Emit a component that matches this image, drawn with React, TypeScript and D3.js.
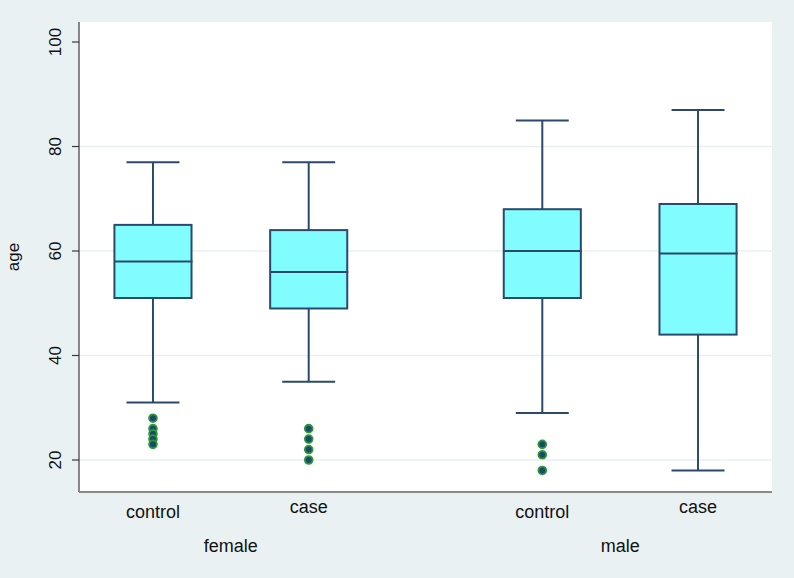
import React from "react";
import * as d3 from "d3";

const width = 794;
const height = 578;
const plot = { left: 79, right: 772, top: 22, bottom: 492 };

// over(sex) then over(group)
const sexes = ["female", "male"];
const groups = ["control", "case"];

// box statistics per sex x group, order: female control, female case, male control, male case
const whiskerLow = [31, 35, 29, 18];
const q1 = [51, 49, 51, 44];
const median = [58, 56, 60, 59.5];
const q3 = [65, 64, 68, 69];
const whiskerHigh = [77, 77, 85, 87];
const outliers = [
  [28, 26, 25, 24, 23],
  [26, 24, 22, 20],
  [23, 21, 18],
  [],
];

const yTicks = [20, 40, 60, 80, 100];
const gridTicks = [20, 40, 60, 80];

// slot positions along x (gap between sex groups)
const slots = [0, 1, 2.5, 3.5];

const lineColor = "#2b4a6b";
const font = "'Liberation Sans', Arial, Helvetica, sans-serif";

export default function App() {
  const x = d3.scaleLinear().domain([-0.475, 3.975]).range([plot.left, plot.right]);
  const y = d3.scaleLinear().domain([13.876, 103.83]).range([plot.bottom, plot.top]);
  const unit = x(1) - x(0);
  const boxW = unit * 0.495;
  const capW = unit * 0.34;

  const boxes = slots.map((s, i) => ({
    cx: x(s),
    sex: sexes[Math.floor(i / 2)],
    group: groups[i % 2],
    lo: whiskerLow[i],
    q1: q1[i],
    med: median[i],
    q3: q3[i],
    hi: whiskerHigh[i],
    out: outliers[i],
  }));

  return (
    <svg width={width} height={height} style={{ display: "block", position: "absolute", left: 0, top: 0 }}>
      <rect x={0} y={0} width={width} height={height} fill="#eaf1f3" />
      <rect x={plot.left} y={plot.top} width={plot.right - plot.left} height={plot.bottom - plot.top} fill="#ffffff" />

      {gridTicks.map(t => (
        <line key={t} x1={plot.left} x2={plot.right} y1={y(t)} y2={y(t)} stroke="#e8eff1" strokeWidth={1.5} />
      ))}

      {boxes.map((b, i) => (
        <g key={i}>
          <line x1={b.cx} x2={b.cx} y1={y(b.hi)} y2={y(b.q3)} stroke={lineColor} strokeWidth={2} />
          <line x1={b.cx} x2={b.cx} y1={y(b.q1)} y2={y(b.lo)} stroke={lineColor} strokeWidth={2} />
          <line x1={b.cx - capW / 2} x2={b.cx + capW / 2} y1={y(b.hi)} y2={y(b.hi)} stroke={lineColor} strokeWidth={2} />
          <line x1={b.cx - capW / 2} x2={b.cx + capW / 2} y1={y(b.lo)} y2={y(b.lo)} stroke={lineColor} strokeWidth={2} />
          <rect
            x={b.cx - boxW / 2}
            y={y(b.q3)}
            width={boxW}
            height={y(b.q1) - y(b.q3)}
            fill="#82fdff"
            stroke={lineColor}
            strokeWidth={2}
          />
          <line x1={b.cx - boxW / 2} x2={b.cx + boxW / 2 + 1} y1={y(b.med)} y2={y(b.med)} stroke={lineColor} strokeWidth={2} />
          {b.out.map((v, j) => (
            <circle key={j} cx={b.cx} cy={y(v)} r={3.9} fill="#1b4a6e" stroke="#2e9a36" strokeWidth={1.8} />
          ))}
        </g>
      ))}

      {/* axes */}
      <line x1={plot.left} x2={plot.left} y1={plot.top} y2={plot.bottom} stroke="#3a3a3a" strokeWidth={1.2} />
      <line x1={plot.left} x2={plot.right} y1={plot.bottom} y2={plot.bottom} stroke="#8a8a8a" strokeWidth={2} />
      {yTicks.map(t => (
        <g key={t}>
          <line x1={plot.left - 7} x2={plot.left} y1={y(t)} y2={y(t)} stroke="#3a3a3a" strokeWidth={1.2} />
          <text
            transform={`translate(${61},${y(t)}) rotate(-90)`}
            textAnchor="middle"
            fontFamily={font}
            fontSize={17}
            fill="#111"
          >
            {t}
          </text>
        </g>
      ))}
      <text
        transform={`translate(${19},${(plot.top + plot.bottom) / 2}) rotate(-90)`}
        textAnchor="middle"
        fontFamily={font}
        fontSize={17}
        fill="#111"
      >
        age
      </text>

      {boxes.map((b, i) => (
        <text
          key={i}
          x={b.cx}
          y={b.group === "case" ? 513 : 517.5}
          textAnchor="middle"
          fontFamily={font}
          fontSize={18}
          fill="#111"
        >
          {b.group}
        </text>
      ))}
      {sexes.map((s, k) => (
        <text
          key={s}
          x={(x(slots[k * 2]) + x(slots[k * 2 + 1])) / 2}
          y={551.5}
          textAnchor="middle"
          fontFamily={font}
          fontSize={18}
          fill="#111"
        >
          {s}
        </text>
      ))}
    </svg>
  );
}
